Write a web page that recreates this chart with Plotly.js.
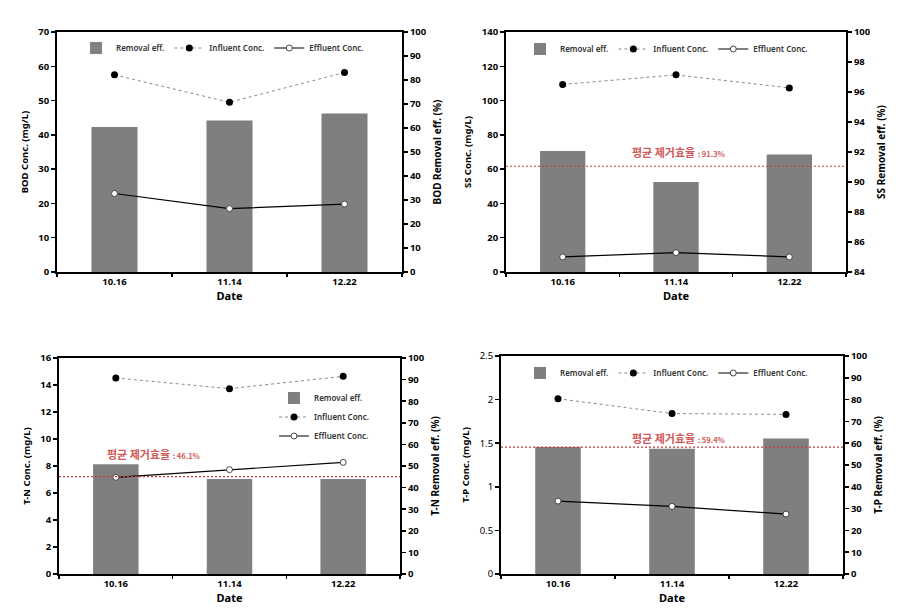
<!DOCTYPE html>
<html>
<head>
<meta charset="utf-8">
<script src="https://cdn.plot.ly/plotly-3.0.1.min.js"></script>
<style>html,body{margin:0;padding:0;background:#fff;}#chart{width:911px;height:610px;}</style>
</head>
<body>
<div id="chart"></div>
<script>
// ---- data ----
const dates = ['10.16', '11.14', '12.22'];
const panelNames = ['BOD', 'SS', 'T-N', 'T-P'];

const bodInfluent = [57.5, 49.5, 58.2];
const bodEffluent = [22.9, 18.5, 19.8];
const bodRemoval = [60.4, 63.1, 66.0];

const ssInfluent = [109.4, 115.0, 107.4];
const ssEffluent = [8.8, 11.3, 8.8];
const ssRemoval = [92.07, 90.0, 91.84];

const tnInfluent = [14.52, 13.73, 14.64];
const tnEffluent = [7.16, 7.73, 8.27];
const tnRemoval = [50.8, 44.0, 44.0];

const tpInfluent = [2.01, 1.84, 1.83];
const tpEffluent = [0.836, 0.775, 0.687];
const tpRemoval = [58.3, 57.4, 62.1];

const concRanges = [[0, 70], [0, 140], [0, 16], [0, 2.5]];
const concDtick = [10, 20, 2, 0.5];
const effRanges = [[0, 100], [84, 100], [0, 100], [0, 100]];
const effDtick = [10, 2, 10, 10];

const meanLine = [null, 91.05, 45.1, 58.2];
const meanLabel = [null, '91.3%', '46.1%', '59.4%'];

const legendNames = ['Removal eff.', 'Influent Conc.', 'Effluent Conc.'];

// ---- layout geometry (px) ----
const W = 911, H = 610;
const boxes = [
  {x0: 57, x1: 402, y0: 32, y1: 272},
  {x0: 506, x1: 846, y0: 32, y1: 272},
  {x0: 59, x1: 400, y0: 358, y1: 574},
  {x0: 501, x1: 843, y0: 356, y1: 574}
];
const legendPos = [
  {x: 76, y: 48, orient: 'h'},
  {x: 520, y: 49, orient: 'h'},
  {x: 274, y: 417, orient: 'v'},
  {x: 520, y: 373, orient: 'h'}
];
const labelPos = [null, {x: 678, y: 152}, {x: 153, y: 454}, {x: 678, y: 438}];

const influents = [bodInfluent, ssInfluent, tnInfluent, tpInfluent];
const effluents = [bodEffluent, ssEffluent, tnEffluent, tpEffluent];
const removals = [bodRemoval, ssRemoval, tnRemoval, tpRemoval];

const FONT = 'Noto Sans, Open Sans, sans-serif';
const KFONT = 'Noto Sans CJK KR, sans-serif';

const traces = [];
const layout = {
  width: W, height: H,
  margin: {l: 0, r: 0, t: 0, b: 0, autoexpand: false},
  paper_bgcolor: '#fff', plot_bgcolor: 'rgba(0,0,0,0)',
  showlegend: true,
  bargap: 0.6,
  shapes: [], annotations: [],
  font: {family: FONT, color: '#000'}
};

for (let i = 0; i < 4; i++) {
  const b = boxes[i];
  const xk = i === 0 ? 'x' : 'x' + (i + 1);
  const yEff = 'y' + (i === 0 ? '' : (2 * i + 1));   // bars, right side (base)
  const yConc = 'y' + (2 * i + 2);                  // lines, left side (overlay)
  const xName = 'xaxis' + (i === 0 ? '' : (i + 1));
  const yEffName = 'yaxis' + (i === 0 ? '' : (2 * i + 1));
  const yConcName = 'yaxis' + (2 * i + 2);
  const lg = 'legend' + (i === 0 ? '' : (i + 1));
  const name = panelNames[i];
  const base0 = effRanges[i][0];

  traces.push({
    type: 'bar', x: dates, y: removals[i].map(v => v - base0), base: base0,
    xaxis: xk, yaxis: yEff,
    name: legendNames[0], legend: lg,
    marker: {color: '#7f7f7f', line: {width: 0}},
    hoverinfo: 'skip'
  });
  traces.push({
    type: 'scatter', mode: 'lines+markers', x: dates, y: influents[i], xaxis: xk, yaxis: yConc,
    name: legendNames[1], legend: lg,
    line: {color: '#8a8a8a', width: 1, dash: 'dot'},
    marker: {color: '#000', size: 7, symbol: 'circle'}
  });
  traces.push({
    type: 'scatter', mode: 'lines+markers', x: dates, y: effluents[i], xaxis: xk, yaxis: yConc,
    name: legendNames[2], legend: lg,
    line: {color: '#000', width: 1.2},
    marker: {color: '#fff', size: 6, symbol: 'circle', line: {color: '#444', width: 1}}
  });

  const tickFont = {family: FONT, size: 9.5, color: '#000', weight: 'bold'};
  layout[xName] = {
    domain: [b.x0 / W, b.x1 / W], anchor: yEff, type: 'category',
    showline: true, linecolor: '#000', linewidth: 2, mirror: true,
    ticks: 'outside', tickson: 'boundaries', ticklen: 3, tickwidth: 1.5, tickcolor: '#000',
    tickfont: tickFont, showgrid: false, zeroline: false,
    title: {text: 'Date', font: {family: FONT, size: 11, color: '#000', weight: 'bold'}, standoff: 2},
    automargin: false, fixedrange: true
  };
  layout[yEffName] = {
    domain: [1 - b.y1 / H, 1 - b.y0 / H], anchor: xk, side: 'right',
    range: effRanges[i], dtick: effDtick[i], tick0: effRanges[i][0],
    showline: true, linecolor: '#000', linewidth: 2,
    ticks: 'outside', ticklen: 4, tickwidth: 1.5, tickcolor: '#000',
    tickfont: tickFont, showgrid: false, zeroline: false,
    title: {text: name + ' Removal eff. (%)', font: {family: FONT, size: 10, color: '#000', weight: 'bold'}, standoff: 8},
    automargin: false, fixedrange: true
  };
  layout[yConcName] = {
    domain: [1 - b.y1 / H, 1 - b.y0 / H], anchor: xk, overlaying: yEff, side: 'left',
    range: concRanges[i], dtick: concDtick[i], tick0: 0,
    showline: true, linecolor: '#000', linewidth: 2,
    ticks: 'outside', ticklen: 4, tickwidth: 1.5, tickcolor: '#000',
    tickfont: i === 3 ? {family: FONT, size: 9.5, color: '#000'} : tickFont,
    showgrid: false, zeroline: false,
    title: {text: name + ' Conc. (mg/L)', font: {family: FONT, size: 9.5, color: '#000', weight: 'bold'}, standoff: 8},
    automargin: false, fixedrange: true
  };

  const lp = legendPos[i];
  layout[lg] = {
    x: lp.x / W, y: 1 - lp.y / H, xanchor: 'left', yanchor: 'middle',
    orientation: lp.orient, bgcolor: 'rgba(0,0,0,0)', borderwidth: 0,
    font: {family: FONT, size: 8, color: '#333', weight: 600},
    itemwidth: 30, tracegroupgap: 0,
    itemclick: false, itemdoubleclick: false
  };

  if (meanLine[i] !== null) {
    layout.shapes.push({
      type: 'line', xref: xk + ' domain', yref: yEff,
      x0: 0, x1: 1, y0: meanLine[i], y1: meanLine[i],
      line: {color: '#c83c3c', width: 1.2, dash: '2px,2px'}, layer: 'above'
    });
    const p = labelPos[i];
    layout.annotations.push({
      xref: 'paper', yref: 'paper', x: p.x / W, y: 1 - p.y / H,
      xanchor: 'center', yanchor: 'middle', showarrow: false,
      text: '평균 제거효율 <span style="font-size:7.5px">: ' + meanLabel[i] + '</span>',
      font: {family: KFONT, size: 11, color: '#d05a5a', weight: 'bold'}
    });
  }
}

Plotly.newPlot('chart', traces, layout, {staticPlot: true, displayModeBar: false});
</script>
</body>
</html>
